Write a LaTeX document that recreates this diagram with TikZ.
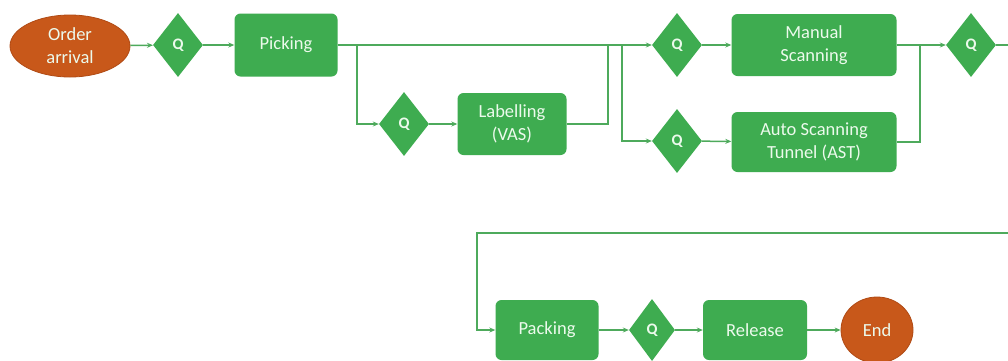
\documentclass[tikz,border=0pt]{standalone}
\usepackage{fontspec}
\setmainfont{Carlito}
\usetikzlibrary{shapes.geometric,arrows.meta}
\definecolor{flowgreen}{RGB}{62,172,80}
\definecolor{flowline}{RGB}{78,170,92}
\definecolor{termorange}{RGB}{200,88,26}
\definecolor{termedge}{RGB}{176,74,20}
\definecolor{labeltext}{RGB}{236,250,236}
\tikzset{
  proc/.style={draw=none, fill=flowgreen, rounded corners=6pt, text=labeltext,
    font=\fontsize{18.5}{23}\selectfont, align=center, inner sep=0pt},
  queue/.style={diamond, draw=none, fill=flowgreen, text=labeltext,
    font=\fontsize{16}{18}\selectfont\bfseries, minimum width=50pt, minimum height=64pt, inner sep=0pt},
  term/.style={ellipse, draw=termedge, line width=0.8pt, fill=termorange, text=labeltext,
    font=\fontsize{18.5}{23}\selectfont, align=center, inner sep=0pt},
  conn/.style={draw=flowline, line width=1.5pt},
  arr/.style={conn, -{Stealth[length=6pt,width=5pt]}}
}
\begin{document}
\begin{tikzpicture}[x=1pt,y=-1pt]
\useasboundingbox (0,0) rectangle (1008,360);
\clip (0,0) rectangle (1008,360);
\fill[white] (0,0) rectangle (1008,360);

% upper row
\node[term, minimum width=120pt, minimum height=62pt] (oa) at (70,46) {Order\\arrival};
\node[queue] (q1) at (178,45) {Q};
\node[proc, minimum width=103pt, minimum height=63pt] (pick) at (286,45) {Picking};
\node[queue] (q2) at (404,124) {Q};
\node[proc, minimum width=109pt, minimum height=62pt] (lab) at (512,124) {Labelling\\(VAS)};
\node[queue] (q3) at (677,45) {Q};
\node[proc, minimum width=165pt, minimum height=62pt] (man) at (814,45) {Manual\\Scanning};
\node[queue] (q4) at (677,141) {Q};
\node[proc, minimum width=165pt, minimum height=60pt] (auto) at (814,142) {Auto Scanning\\Tunnel (AST)};
\node[queue] (q5) at (971,45) {Q};

% lower row
\node[proc, minimum width=103pt, minimum height=60pt] (pack) at (547,330) {Packing};
\node[queue, minimum width=46pt, minimum height=62pt] (q6) at (652,330) {Q};
\node[proc, minimum width=104pt, minimum height=60pt] (rel) at (755,330) {Release};
\node[term, minimum width=72pt, minimum height=66pt] (end) at (877,330) {End};

% junction points
\coordinate (split1) at (357,45);
\coordinate (merge1) at (608,45);
\coordinate (split2) at (622,45);
\coordinate (merge2) at (920,45);
\coordinate (outR) at (1010,45);
\coordinate (inR) at (1010,233);
\coordinate (back) at (477,233);

% connectors
\draw[arr] (oa) -- (q1);
\draw[arr] (q1) -- (pick);
\draw[arr] (pick) -- (q3);
\draw[arr] (split1) |- (q2);
\draw[arr] (q2) -- (lab);
\draw[conn] (lab) -| (merge1);
\draw[arr] (split2) |- (q4);
\draw[arr] (q3) -- (man);
\draw[arr] (q4) -- (auto);
\draw[arr] (man) -- (q5);
\draw[conn] (auto) -| (merge2);
\draw[conn] (q5) -- (outR);
\draw[arr] (inR) -- (back) |- (pack);
\draw[arr] (pack) -- (q6);
\draw[arr] (q6) -- (rel);
\draw[arr] (rel) -- (end);
\end{tikzpicture}
\end{document}
